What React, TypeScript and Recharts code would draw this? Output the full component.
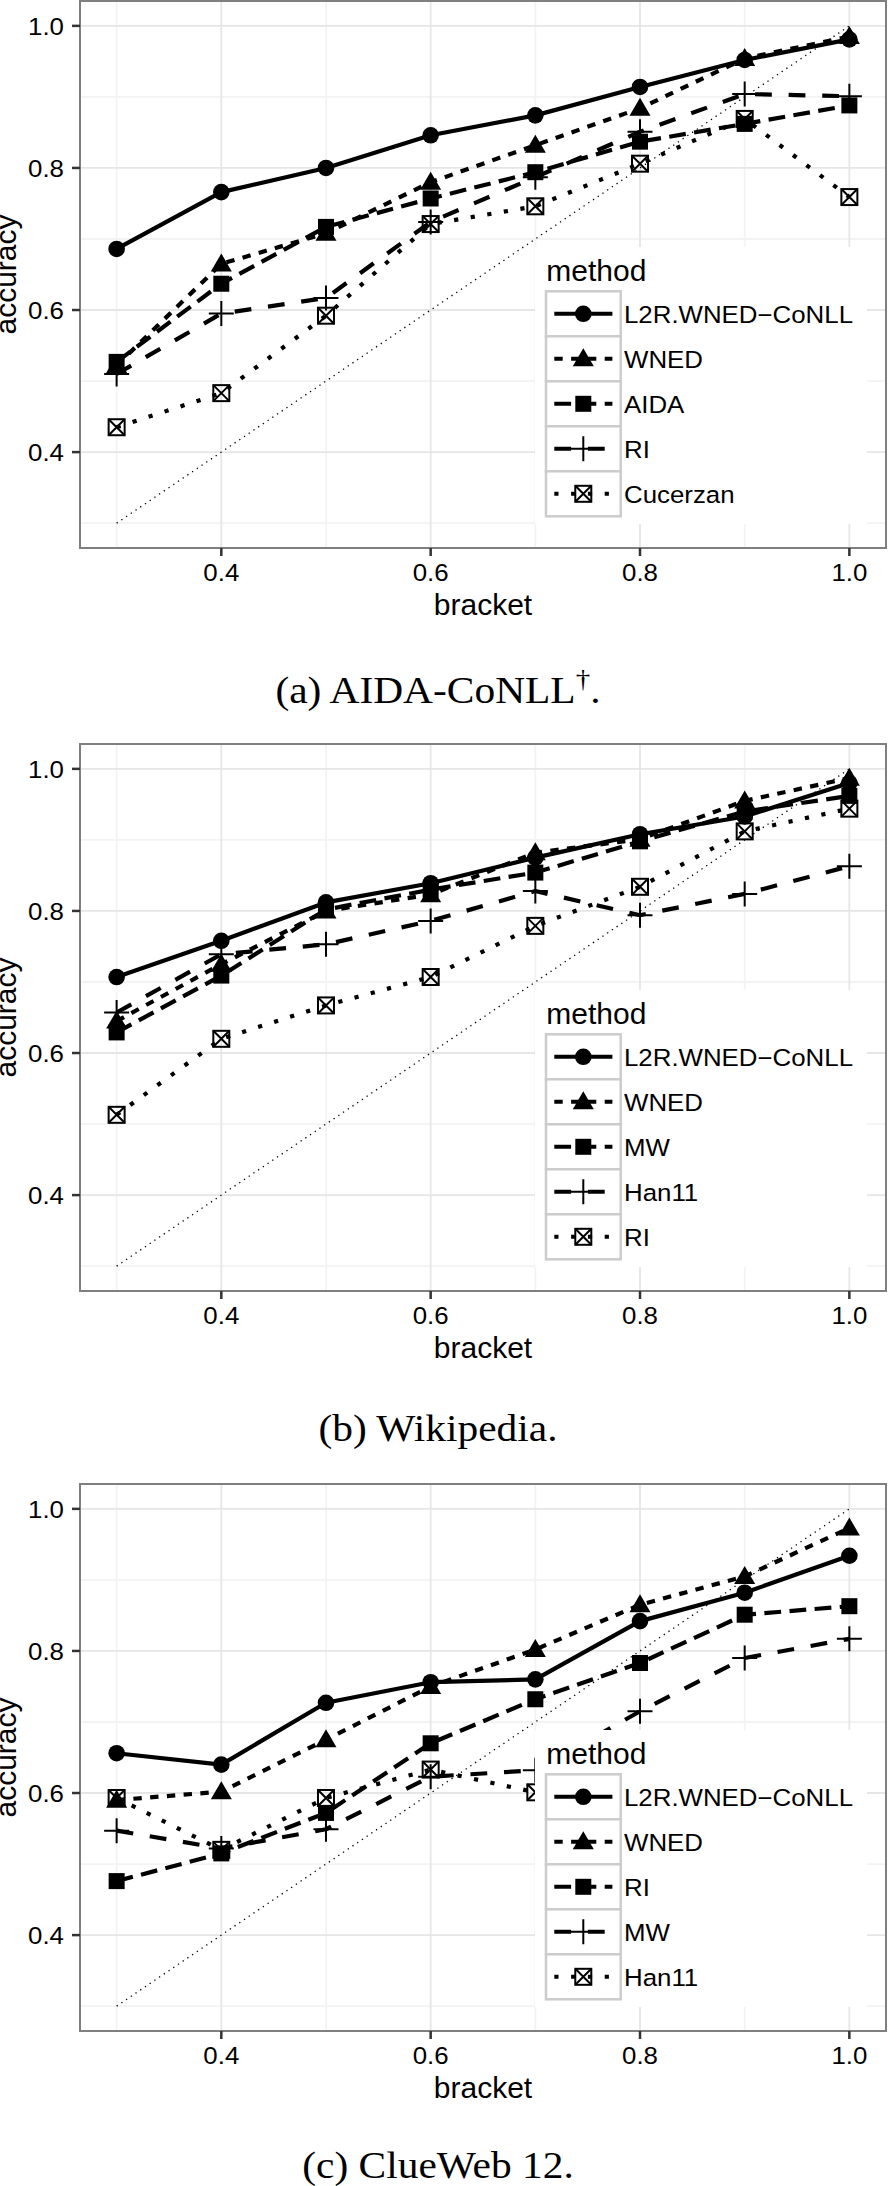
import React from 'react';
import { LineChart, Line, XAxis, YAxis, CartesianGrid, ReferenceLine, ReferenceArea, Legend } from 'recharts';

const SANS = '"Liberation Sans", Arial, Helvetica, sans-serif';
const SERIF = '"Liberation Serif", "Times New Roman", serif';

const brackets = [0.3, 0.4, 0.5, 0.6, 0.7, 0.8, 0.9, 1.0];
const majorTicks = [0.4, 0.6, 0.8, 1.0];
const minorTicks = [0.3, 0.5, 0.7, 0.9];
const axisDomain: [number, number] = [0.265, 1.035];

// (a) AIDA-CoNLL
const aidaMethods = ['L2R.WNED\u2212CoNLL', 'WNED', 'AIDA', 'RI', 'Cucerzan'];
const aidaL2R = [0.686, 0.766, 0.8, 0.846, 0.874, 0.914, 0.952, 0.981];
const aidaWNED = [0.522, 0.665, 0.708, 0.78, 0.832, 0.884, 0.954, 0.985];
const aidaAIDA = [0.527, 0.637, 0.717, 0.757, 0.794, 0.837, 0.862, 0.888];
const aidaRI = [0.51, 0.595, 0.617, 0.724, 0.787, 0.851, 0.904, 0.901];
const aidaCucerzan = [0.435, 0.483, 0.592, 0.721, 0.746, 0.806, 0.869, 0.759];

// (b) Wikipedia
const wikiMethods = ['L2R.WNED\u2212CoNLL', 'WNED', 'MW', 'Han11', 'RI'];
const wikiL2R = [0.707, 0.758, 0.812, 0.839, 0.875, 0.908, 0.933, 0.98];
const wikiWNED = [0.645, 0.725, 0.8, 0.823, 0.882, 0.901, 0.955, 0.987];
const wikiMW = [0.629, 0.709, 0.802, 0.83, 0.854, 0.898, 0.94, 0.962];
const wikiHan11 = [0.657, 0.739, 0.753, 0.786, 0.828, 0.794, 0.824, 0.863];
const wikiRI = [0.513, 0.62, 0.667, 0.707, 0.779, 0.834, 0.912, 0.944];

// (c) ClueWeb 12
const clueMethods = ['L2R.WNED\u2212CoNLL', 'WNED', 'RI', 'MW', 'Han11'];
const clueL2R = [0.656, 0.64, 0.727, 0.756, 0.76, 0.842, 0.882, 0.934];
const clueWNED = [0.59, 0.602, 0.675, 0.75, 0.802, 0.865, 0.905, 0.973];
const clueRI = [0.476, 0.515, 0.572, 0.67, 0.732, 0.783, 0.851, 0.863];
const clueMW = [0.547, 0.522, 0.549, 0.623, 0.632, 0.715, 0.79, 0.817];
const clueHan11 = [0.593, 0.52, 0.593, 0.633, 0.601, 0.57, 0.55, 0.53];

const captionMain = ['(a) AIDA-CoNLL', '(b) Wikipedia.', '(c) ClueWeb 12.'];

const shapes = ['circle', 'triangle', 'square', 'plus', 'boxx'];
const dashes = [undefined, '8.4 8.4', '16.8 8.4', '16.8 16.8', '4.2 12.6'];

function Marker({ shape, cx, cy }: { shape: string; cx: number; cy: number }) {
  if (cx == null || cy == null || isNaN(cx) || isNaN(cy)) return <g />;
  switch (shape) {
    case 'circle':
      return <circle cx={cx} cy={cy} r={8.3} fill="#000" />;
    case 'triangle': {
      const w = 21, h = 18;
      return (
        <polygon
          points={`${cx - w / 2},${cy + h * 0.42} ${cx + w / 2},${cy + h * 0.42} ${cx},${cy - h * 0.58}`}
          fill="#000"
        />
      );
    }
    case 'square':
      return <rect x={cx - 8} y={cy - 8} width={16} height={16} fill="#000" />;
    case 'plus':
      return (
        <path
          d={`M${cx - 12.5},${cy}H${cx + 12.5}M${cx},${cy - 12.5}V${cy + 12.5}`}
          stroke="#000"
          strokeWidth={2}
          fill="none"
        />
      );
    default:
      return (
        <g stroke="#000" strokeWidth={2} fill="none">
          <rect x={cx - 8} y={cy - 8} width={16} height={16} />
          <path d={`M${cx - 8},${cy - 8}L${cx + 8},${cy + 8}M${cx + 8},${cy - 8}L${cx - 8},${cy + 8}`} />
        </g>
      );
  }
}

const YTick = (p: any) => (
  <text
    transform={`translate(${p.x},${p.y + 9.4}) scale(1.1,1)`}
    textAnchor="end"
    fontSize={23.5}
    fontFamily={SANS}
    fill="#000"
  >
    {Number(p.payload.value).toFixed(1)}
  </text>
);

const XTick = (p: any) => (
  <text
    transform={`translate(${p.x},${p.y + 17}) scale(1.1,1)`}
    textAnchor="middle"
    fontSize={23.5}
    fontFamily={SANS}
    fill="#000"
  >
    {Number(p.payload.value).toFixed(1)}
  </text>
);

const XTitle = (props: any) => {
  const vb = props.viewBox && props.viewBox.width ? props.viewBox : { x: 80, y: 548, width: 806, height: 92 };
  return (
    <text x={vb.x + vb.width / 2} y={vb.y + 67} textAnchor="middle" fontSize={30} fontFamily={SANS} fill="#000">
      bracket
    </text>
  );
};

const YTitle = (props: any) => {
  const vb = props.viewBox && props.viewBox.height ? props.viewBox : { x: 0, y: 1, width: 80, height: 547 };
  const cy = vb.y + vb.height / 2;
  return (
    <text
      transform={`translate(16,${cy}) rotate(-90)`}
      textAnchor="middle"
      fontSize={30}
      fontFamily={SANS}
      fill="#000"
    >
      accuracy
    </text>
  );
};

function LegendBox({ names }: { names: string[] }) {
  const W = 332, H = 277;
  return (
    <svg width={W} height={H} style={{ display: 'block' }}>
      <rect x={0} y={0} width={W} height={H} fill="#fff" />
      <text x={11.3} y={34} fontSize={30} fontFamily={SANS} fill="#000">
        method
      </text>
      {names.map((n, i) => {
        const top = 44.3 + i * 45;
        const cy = top + 22.5;
        return (
          <g key={n + i}>
            <rect x={11} y={top} width={74.7} height={45} fill="#fff" stroke="#cccccc" strokeWidth={2.5} />
            <line x1={19.3} x2={77.4} y1={cy} y2={cy} stroke="#000" strokeWidth={4} strokeDasharray={dashes[i]} />
            <Marker shape={shapes[i]} cx={48.3} cy={cy} />
            <text
              transform={`translate(89,${top + 32}) scale(1.1,1)`}
              fontSize={23.5}
              fontFamily={SANS}
              fill="#000"
            >
              {n}
            </text>
          </g>
        );
      })}
    </svg>
  );
}

function Panel({ methods, series, top }: { methods: string[]; series: number[][]; top: number }) {
  const rows = brackets.map((b, i) => {
    const r: any = { bracket: b };
    series.forEach((s, k) => {
      r['s' + k] = s[i];
    });
    return r;
  });
  return (
    <div style={{ position: 'absolute', left: 0, top, width: 888, height: 640 }}>
      <LineChart
        width={888}
        height={640}
        data={rows}
        margin={{ top: 1, right: 2, bottom: 0, left: 0 }}
        style={{ fontFamily: SANS }}
      >
        <CartesianGrid
          horizontalValues={minorTicks}
          verticalValues={minorTicks}
          stroke="#f3f3f3"
          strokeWidth={1.8}
        />
        <CartesianGrid
          horizontalValues={majorTicks}
          verticalValues={majorTicks}
          stroke="#e6e6e6"
          strokeWidth={1.8}
        />
        <XAxis
          dataKey="bracket"
          type="number"
          domain={axisDomain}
          ticks={majorTicks}
          allowDataOverflow
          height={92}
          tickSize={8}
          tickMargin={8}
          axisLine={false}
          tickLine={{ stroke: '#333', strokeWidth: 2.5 }}
          tick={(p: any) => <XTick {...p} />}
          label={<XTitle />}
        />
        <YAxis
          type="number"
          domain={axisDomain}
          ticks={majorTicks}
          allowDataOverflow
          width={80}
          tickSize={8}
          tickMargin={8}
          axisLine={false}
          tickLine={{ stroke: '#333', strokeWidth: 2.5 }}
          tick={(p: any) => <YTick {...p} />}
          label={<YTitle />}
        />
        <ReferenceLine
          segment={[
            { x: 0.3, y: 0.3 },
            { x: 1.0, y: 1.0 },
          ]}
          stroke="#000"
          strokeWidth={1.3}
          strokeDasharray="1.3 4.4"
        />
        {series.map((_, k) => (
          <Line
            key={'s' + k}
            type="linear"
            dataKey={'s' + k}
            name={methods[k]}
            stroke="#000"
            strokeWidth={4.2}
            strokeDasharray={dashes[k]}
            strokeLinejoin="round"
            dot={(p: any) => <Marker key={'d' + k + '-' + p.index} shape={shapes[k]} cx={p.cx} cy={p.cy} />}
            activeDot={false}
            isAnimationActive={false}
          />
        ))}
        <ReferenceArea
          x1={axisDomain[0]}
          x2={axisDomain[1]}
          y1={axisDomain[0]}
          y2={axisDomain[1]}
          fill="none"
          fillOpacity={0}
          stroke="#7f7f7f"
          strokeWidth={2}
        />
        <Legend
          layout="vertical"
          align="center"
          verticalAlign="middle"
          wrapperStyle={{ left: 535, top: 246.7, width: 332, height: 277 }}
          content={() => <LegendBox names={methods} />}
        />
      </LineChart>
    </div>
  );
}

const captionBaselines = [703, 1441, 2178];

export default function App() {
  return (
    <div style={{ position: 'absolute', left: 0, top: 0, width: 888, height: 2186, background: '#fff', overflow: 'hidden' }}>
      <svg width={888} height={2186} style={{ position: 'absolute', left: 0, top: 0 }}>
        {captionMain.map((c, i) => (
          <text
            key={c}
            transform={`translate(438,${captionBaselines[i]}) scale(1.12,1)`}
            textAnchor="middle"
            fontFamily={SERIF}
            fontSize={37}
            fill="#000"
          >
            {c}
            {i === 0 ? (
              <>
                <tspan dy={-16} fontSize={26}>
                  {'\u2020'}
                </tspan>
                <tspan dy={16} fontSize={37}>
                  .
                </tspan>
              </>
            ) : null}
          </text>
        ))}
      </svg>
      <Panel
        methods={aidaMethods}
        series={[aidaL2R, aidaWNED, aidaAIDA, aidaRI, aidaCucerzan]}
        top={0}
      />
      <Panel
        methods={wikiMethods}
        series={[wikiL2R, wikiWNED, wikiMW, wikiHan11, wikiRI]}
        top={743}
      />
      <Panel
        methods={clueMethods}
        series={[clueL2R, clueWNED, clueRI, clueMW, clueHan11]}
        top={1483}
      />
    </div>
  );
}
